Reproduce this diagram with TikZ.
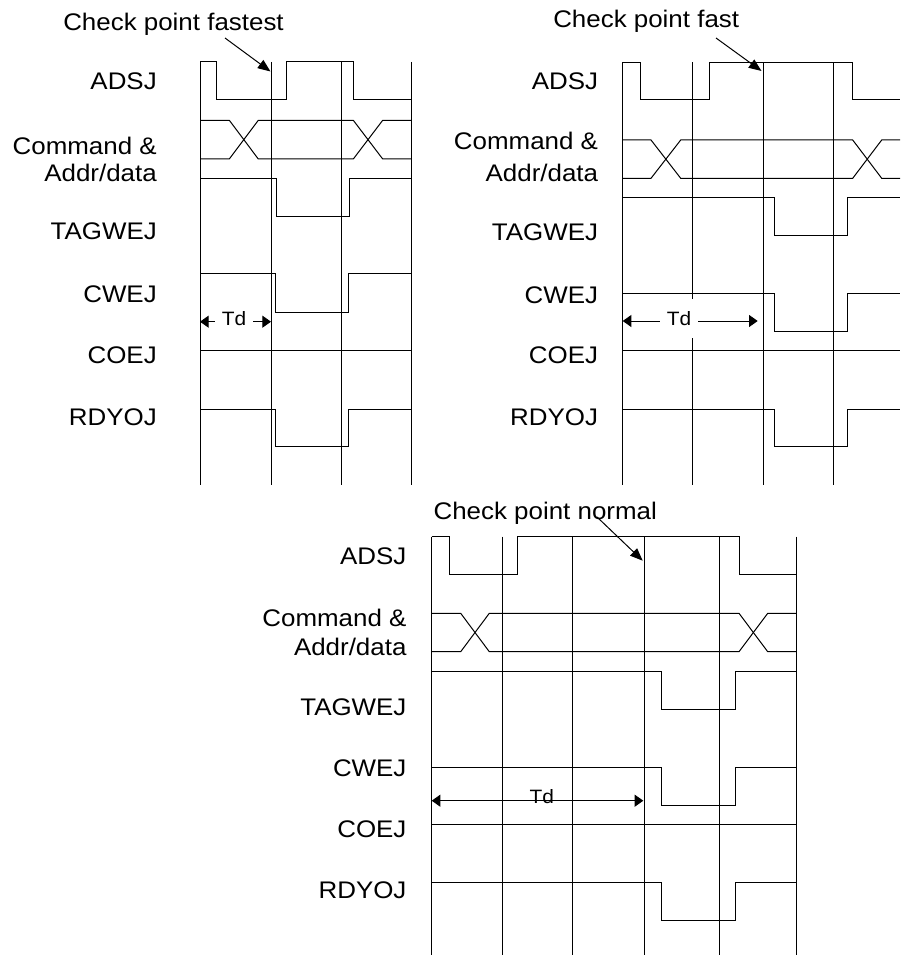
\documentclass[tikz,border=0pt]{standalone}
\usepackage{fontspec}
\setmainfont{Liberation Sans}[FakeStretch=1.08]
\usetikzlibrary{arrows.meta}
\newcommand{\sigfont}{\fontsize{18pt}{21pt}\selectfont}
\newcommand{\tdfont}{\fontsize{14.5pt}{17pt}\selectfont}
\tikzset{
  wave/.style={line width=0.75pt},
  siglabel/.style={anchor=base east, inner sep=0pt, font=\sigfont},
  headline/.style={anchor=base west, inner sep=0pt, font=\sigfont},
  tdbox/.style={fill=white, inner sep=0pt, minimum width=28.5pt, minimum height=29pt, font=\tdfont},
  tdtext/.style={inner sep=0pt, font=\tdfont},
  tdarrow/.style={line width=0.75pt, -{Triangle[length=6.5pt,width=9pt]}},
  checkarrow/.style={line width=0.75pt, -{Triangle[length=9.5pt,width=7.5pt]}}
}
\begin{document}
\begin{tikzpicture}[x=0.75pt,y=-0.75pt]
\useasboundingbox (0,0) rectangle (900,955);

% fastest
\node[headline] (fastest) at (63,31) {Check point fastest};
\node[siglabel] (adsjA) at (157,89.5) {ADSJ};
\node[siglabel] (cmdA) at (157,155) {Command \&};
\node[siglabel] (addrA) at (157,181.7) {Addr/data};
\node[siglabel] (tagA) at (157,240) {TAGWEJ};
\node[siglabel] (cweA) at (157,302.7) {CWEJ};
\node[siglabel] (coeA) at (157,363) {COEJ};
\node[siglabel] (rdyA) at (157,425) {RDYOJ};

\draw[wave] (200,62) -- (200,485);
\draw[wave] (271,62) -- (271,485);
\draw[wave] (341.7,62) -- (341.7,485);
\draw[wave] (411,62) -- (411,485);

\draw[wave] (200,62) -- (216.7,62) -- (216.7,100) -- (286.7,100) -- (286.7,62) -- (353.3,62) -- (353.3,100) -- (411,100);
\draw[wave] (200,120.3) -- (229.3,120.3) -- (258.3,159) -- (353.3,159) -- (382.7,120.3) -- (411,120.3);
\draw[wave] (200,159) -- (229.3,159) -- (258.3,120.3) -- (353.3,120.3) -- (382.7,159) -- (411,159);
\draw[wave] (200,178.3) -- (276,178.3) -- (276,216.7) -- (349.3,216.7) -- (349.3,178.3) -- (411,178.3);
\draw[wave] (200,274) -- (275.7,274) -- (275.7,312.3) -- (348.3,312.3) -- (348.3,274) -- (411,274);
\draw[wave] (200,350.7) -- (411,350.7);
\draw[wave] (200,409) -- (275.7,409) -- (275.7,446.7) -- (348.3,446.7) -- (348.3,409) -- (411,409);

\coordinate (fastestfrom) at (225,38);
\coordinate (fastestto) at (270.5,71.5);
\draw[checkarrow] (fastestfrom) -- (fastestto);

\coordinate (tdAl) at (200,321.7);
\coordinate (tdAr) at (271,321.7);
\node[tdbox] (tdA) at (234,318.5) {Td};
\draw[tdarrow] (tdA.west |- tdAl) -- (tdAl);
\draw[tdarrow] (tdA.east |- tdAr) -- (tdAr);

% fast
\node[headline] (fast) at (553,27.3) {Check point fast};
\node[siglabel] (adsjB) at (598.3,90) {ADSJ};
\node[siglabel] (cmdB) at (598.3,150) {Command \&};
\node[siglabel] (addrB) at (598.3,182) {Addr/data};
\node[siglabel] (tagB) at (598.3,241) {TAGWEJ};
\node[siglabel] (cweB) at (598.3,303) {CWEJ};
\node[siglabel] (coeB) at (598.3,363) {COEJ};
\node[siglabel] (rdyB) at (598.3,425) {RDYOJ};

\draw[wave] (622.7,62.3) -- (622.7,485);
\draw[wave] (692.7,62.3) -- (692.7,485);
\draw[wave] (763.3,62.3) -- (763.3,485);
\draw[wave] (833.3,62.3) -- (833.3,485);

\draw[wave] (622.7,62.3) -- (640,62.3) -- (640,100) -- (709,100) -- (709,62.3) -- (852.7,62.3) -- (852.7,100) -- (900,100);
\draw[wave] (622.7,140) -- (651,140) -- (680.7,178.3) -- (852.7,178.3) -- (881.7,140) -- (900,140);
\draw[wave] (622.7,178.3) -- (651,178.3) -- (680.7,140) -- (852.7,140) -- (881.7,178.3) -- (900,178.3);
\draw[wave] (622.7,197.3) -- (774.3,197.3) -- (774.3,235.7) -- (847.7,235.7) -- (847.7,197.3) -- (900,197.3);
\draw[wave] (622.7,293.3) -- (774.3,293.3) -- (774.3,331) -- (847.7,331) -- (847.7,293.3) -- (900,293.3);
\draw[wave] (622.7,350.7) -- (900,350.7);
\draw[wave] (622.7,409) -- (774.3,409) -- (774.3,446.7) -- (847.7,446.7) -- (847.7,409) -- (900,409);

\coordinate (fastfrom) at (716,38);
\coordinate (fastto) at (761.5,71);
\draw[checkarrow] (fastfrom) -- (fastto);

\coordinate (tdBl) at (622.7,321);
\coordinate (tdBr) at (757.7,321);
\node[tdbox] (tdB) at (679,318.5) {Td};
\draw[tdarrow] (tdB.west |- tdBl) -- (tdBl);
\draw[tdarrow] (tdB.east |- tdBr) -- (tdBr);

% normal
\node[headline] (normal) at (433.3,519.3) {Check point normal};
\node[siglabel] (adsjC) at (406.7,564) {ADSJ};
\node[siglabel] (cmdC) at (406.7,626.7) {Command \&};
\node[siglabel] (addrC) at (406.7,655.7) {Addr/data};
\node[siglabel] (tagC) at (406.7,715) {TAGWEJ};
\node[siglabel] (cweC) at (406.7,776.7) {CWEJ};
\node[siglabel] (coeC) at (406.7,837) {COEJ};
\node[siglabel] (rdyC) at (406.7,898) {RDYOJ};

\draw[wave] (431.7,536.7) -- (431.7,955);
\draw[wave] (502.3,536.7) -- (502.3,955);
\draw[wave] (572.7,536.7) -- (572.7,955);
\draw[wave] (644.3,536.7) -- (644.3,955);
\draw[wave] (719.3,536.7) -- (719.3,955);
\draw[wave] (796.7,536.7) -- (796.7,955);

\draw[wave] (431.7,536.7) -- (449.3,536.7) -- (449.3,574.3) -- (517.7,574.3) -- (517.7,536.7) -- (739,536.7) -- (739,574.3) -- (796.7,574.3);
\draw[wave] (431.7,613.3) -- (460.7,613.3) -- (489.3,651.7) -- (739,651.7) -- (767.7,613.3) -- (796.7,613.3);
\draw[wave] (431.7,651.7) -- (460.7,651.7) -- (489.3,613.3) -- (739,613.3) -- (767.7,651.7) -- (796.7,651.7);
\draw[wave] (431.7,671) -- (661.7,671) -- (661.7,709) -- (735,709) -- (735,671) -- (796.7,671);
\draw[wave] (431.7,767.3) -- (661.7,767.3) -- (661.7,805.3) -- (735,805.3) -- (735,767.3) -- (796.7,767.3);
\draw[wave] (431.7,824.3) -- (796.7,824.3);
\draw[wave] (431.7,882.3) -- (661.7,882.3) -- (661.7,920.7) -- (735,920.7) -- (735,882.3) -- (796.7,882.3);

\coordinate (normalfrom) at (596.7,516.7);
\coordinate (normalto) at (642.7,560.7);
\draw[checkarrow] (normalfrom) -- (normalto);

\coordinate (tdCl) at (431.7,800.7);
\coordinate (tdCr) at (643.3,800.7);
\node[tdtext] (tdC) at (541.7,796.5) {Td};
\draw[tdarrow] (tdC |- tdCl) -- (tdCl);
\draw[tdarrow] (tdC |- tdCr) -- (tdCr);
\end{tikzpicture}
\end{document}
